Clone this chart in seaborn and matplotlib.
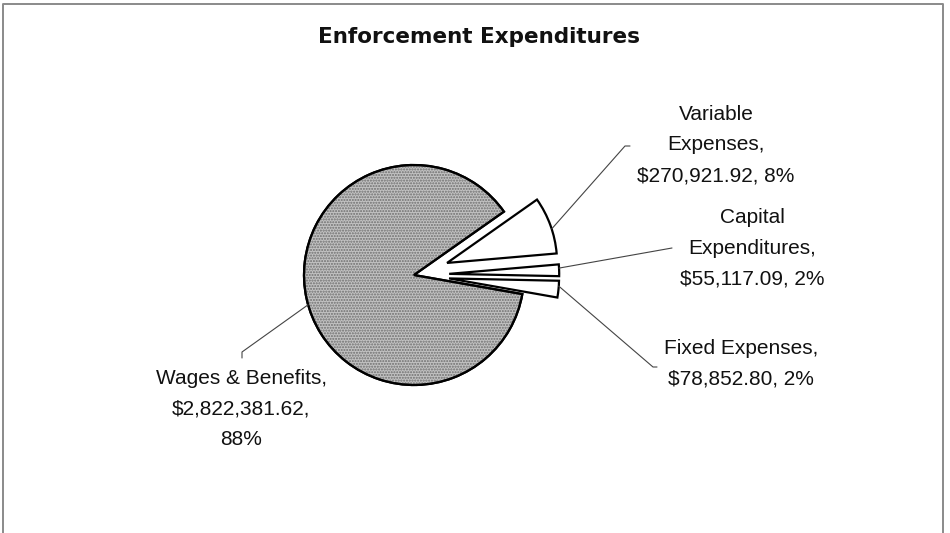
import numpy as np
import matplotlib
matplotlib.use("Agg")
import matplotlib.pyplot as plt
import matplotlib.patches as mpatches
import seaborn as sns

# values
categories = ["Wages & Benefits", "Variable Expenses", "Capital Expenditures", "Fixed Expenses"]
label_names = ["Wages & Benefits,", "Variable\nExpenses,", "Capital\nExpenditures,", "Fixed Expenses,"]
amounts = [2822381.62, 270921.92, 55117.09, 78852.80]
pct_labels = ["88%", "8%", "2%", "2%"]
slice_colors = ["#c2c2c2", "white", "white", "white"]

sns.set_theme(style="white")
plt.rcParams['font.family'] = ['Liberation Sans', 'DejaVu Sans']

W, H = 950, 533
fig = plt.figure(figsize=(9.5, 5.33), dpi=100)
ax = fig.add_axes([0, 0, 1, 1])

def py(y):
    # image row -> data y (y up)
    return H - y

R = 110
cx, cy = 414, py(275)
expl = [0, 0.32 * R, 0.32 * R, 0.32 * R]

wedges, _ = ax.pie(amounts, colors=slice_colors, explode=expl, startangle=-10,
                   counterclock=False, center=(cx, cy), radius=R,
                   wedgeprops=dict(edgecolor="black", linewidth=1.6))

# halftone-ish texture on the big slice
w0 = wedges[0]
ax.add_patch(mpatches.Wedge(w0.center, w0.r, w0.theta1, w0.theta2, fill=False,
                            hatch="......", edgecolor="#6e6e6e", linewidth=0))
ax.add_patch(mpatches.Wedge(w0.center, w0.r, w0.theta1, w0.theta2, fill=False,
                            edgecolor="black", linewidth=1.6))

ax.set_xlim(0, W)
ax.set_ylim(0, H)
ax.set_aspect("auto")
ax.axis("off")

# data labels
label_pos = [(241, 409), (716, 145), (752, 248), (741, 364)]
for i in range(len(categories)):
    if i == 0:
        t = f"{label_names[i]}\n${amounts[i]:,.2f},\n{pct_labels[i]}"
    else:
        t = f"{label_names[i]}\n${amounts[i]:,.2f}, {pct_labels[i]}"
    ax.text(label_pos[i][0], py(label_pos[i][1]), t, ha="center", va="center",
            multialignment="center", fontsize=15, color="#111111", linespacing=1.77)

# leader lines: start on wedge arc, end near label
arc_angle = [195.7, 18, 3, -4]
line_ends = [[(242, 352), (242, 358)], [(625, 146), (630, 146)], [(672, 248)], [(653, 367), (657, 367)]]
for w, a, ends in zip(wedges, arc_angle, line_ends):
    x0 = w.center[0] + w.r * np.cos(np.radians(a))
    y0 = w.center[1] + w.r * np.sin(np.radians(a))
    xs = [x0] + [e[0] for e in ends]
    ys = [y0] + [py(e[1]) for e in ends]
    ax.plot(xs, ys, color="#444444", linewidth=0.8)

ax.text(479, py(37), "Enforcement Expenditures", ha="center", va="center",
        fontsize=15.5, fontweight="bold", family=["DejaVu Sans"], color="#111111")

# chart frame
ax.plot([3, 3, 943, 943], [py(540), py(4), py(4), py(540)], color="#8a8a8a", linewidth=1.4)

fig.savefig("out.png", dpi=100)
